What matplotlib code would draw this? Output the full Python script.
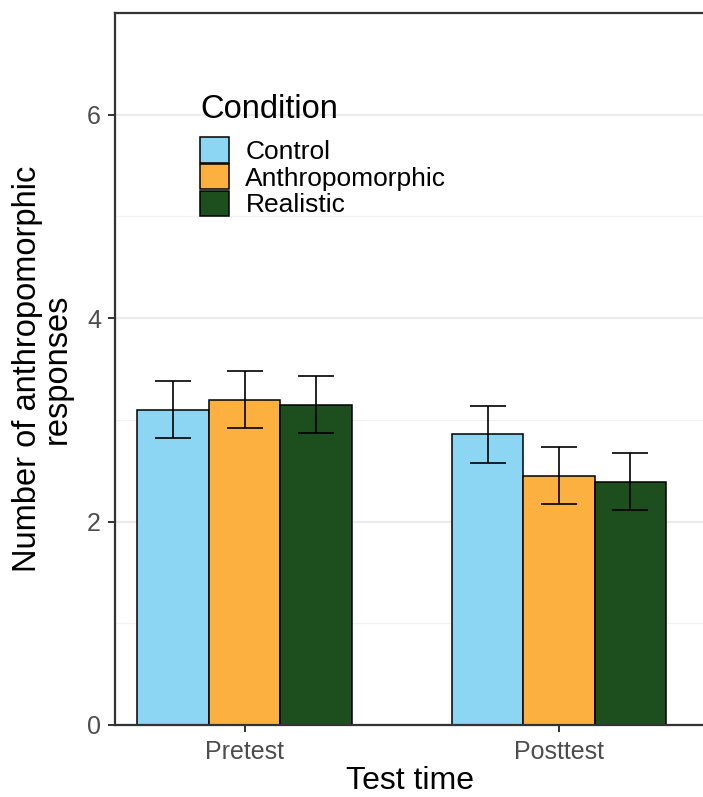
import numpy as np
import matplotlib.pyplot as plt
import matplotlib.patches as mplpatches

plt.rcParams['font.family'] = ['Liberation Sans', 'DejaVu Sans']

# data
test_times = ['Pretest', 'Posttest']
conditions = ['Control', 'Anthropomorphic', 'Realistic']
means = {
    'Control': [3.10, 2.86],
    'Anthropomorphic': [3.20, 2.45],
    'Realistic': [3.15, 2.39],
}
errors = {
    'Control': [0.28, 0.28],
    'Anthropomorphic': [0.28, 0.28],
    'Realistic': [0.28, 0.28],
}
colors = {'Control': '#8DD6F3', 'Anthropomorphic': '#FBB040', 'Realistic': '#1D4F1E'}

figure_width = 7.03
figure_height = 7.97
fig = plt.figure(figsize=(figure_width, figure_height), dpi=100)

# axes in pixels: left 115, right past the edge, bottom 725, top 13
left = 115 / 703
right = 706 / 703
bottom = 72 / 797
top = (797 - 13) / 797
ax = plt.axes([left, bottom, right - left, top - bottom])

x = np.arange(len(test_times))
bar_w = 0.227
for i, cond in enumerate(conditions):
    xpos = x + (i - 1) * bar_w
    ax.bar(xpos, means[cond], width=bar_w, color=colors[cond],
           edgecolor='black', linewidth=1.1, zorder=2, label=cond)
    ax.errorbar(xpos, means[cond], yerr=errors[cond], fmt='none',
                ecolor='black', elinewidth=1.2, capsize=12.9, capthick=1.2, zorder=3)

ax.set_xlim(-0.412, (706 - 244.5) / 314.5)
ax.set_ylim(0, 7.0)
ax.set_yticks([0, 2, 4, 6])
ax.set_yticks([1, 3, 5], minor=True)
ax.set_xticks(x)
ax.set_xticklabels(test_times)

ax.grid(axis='y', which='major', color='#EBEBEB', linewidth=1.6, zorder=0)
ax.grid(axis='y', which='minor', color='#F2F2F2', linewidth=0.9, zorder=0)
ax.set_axisbelow(True)

for side in ['left', 'bottom', 'top', 'right']:
    ax.spines[side].set_color('#333333')
    ax.spines[side].set_linewidth(1.6)

ax.tick_params(axis='both', which='major', length=5, width=1.4, color='#333333',
               labelsize=18, labelcolor='#4D4D4D', pad=5)
ax.tick_params(axis='x', which='major', pad=6)
ax.tick_params(axis='y', which='minor', length=0)

ax.set_xlabel('Test time', fontsize=23, labelpad=1)
ax.set_ylabel('Number of anthropomorphic\nresponses', fontsize=23.5, labelpad=10,
              linespacing=0.95)

handles = [mplpatches.Patch(facecolor=colors[c], edgecolor='black', linewidth=1.1)
           for c in conditions]
leg = ax.legend(handles, conditions, loc='upper left',
                bbox_to_anchor=(200 / 703, (797 - 137) / 797),
                bbox_transform=fig.transFigure,
                frameon=False, fontsize=19,
                handlelength=1.1, handleheight=1.12, labelspacing=0.0,
                handletextpad=0.62, borderpad=0, borderaxespad=0)
fig.text(200 / 703, (797 - 118) / 797, 'Condition', fontsize=23.5,
         ha='left', va='baseline')

plt.savefig('out.png', dpi=100)
